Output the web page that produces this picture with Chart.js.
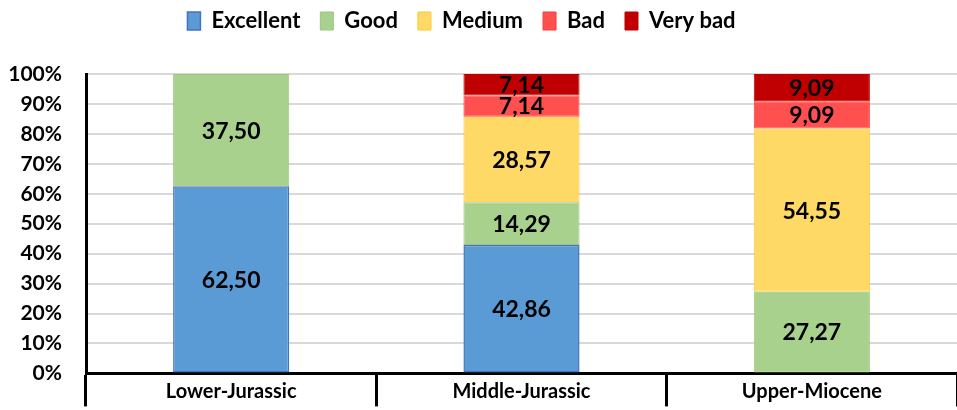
<!DOCTYPE html>
<html>
<head>
<meta charset="utf-8">
<script src="https://cdn.jsdelivr.net/npm/chart.js@4"></script>
<style>
  body { margin: 0; background: #fff; }
  #wrap { width: 957px; height: 410px; }
</style>
</head>
<body>
<div id="wrap"><canvas id="myChart"></canvas></div>
<script>
const periods = ['Lower-Jurassic', 'Middle-Jurassic', 'Upper-Miocene'];
const excellent = [62.50, 42.86, 0];
const good = [37.50, 14.29, 27.27];
const medium = [0, 28.57, 54.55];
const bad = [0, 7.14, 9.09];
const veryBad = [0, 7.14, 9.09];
const yTicks = ['0%','10%','20%','30%','40%','50%','60%','70%','80%','90%','100%'];

const FONT = 'Lato, "Open Sans", sans-serif';

// draws the numbers inside each segment
const segLabels = {
    id: 'segLabels',
    afterDatasetsDraw(chart) {
        const ctx = chart.ctx;
        ctx.save();
        ctx.font = 'bold 23px ' + FONT;
        ctx.fillStyle = '#000';
        ctx.textAlign = 'center';
        ctx.textBaseline = 'middle';
        chart.data.datasets.forEach((ds, i) => {
            const meta = chart.getDatasetMeta(i);
            meta.data.forEach((bar, j) => {
                const v = ds.data[j];
                if (!v) return;
                ctx.fillText(v.toFixed(2).replace('.', ','), bar.x, (bar.y + bar.base) / 2 + 1);
            });
        });
        ctx.restore();
    }
};

// legend a bit taller and a bit left of centre, like the original
const legendSpace = {
    id: 'legendSpace',
    beforeInit(chart) {
        const fit = chart.legend.fit;
        chart.legend.fit = function () {
            fit.bind(chart.legend)();
            this.height = 84;
        };
    },
    afterLayout(chart) {
        chart.legend.left -= 17;
        chart.legend.right -= 17;
    }
};

var ctx = document.querySelector('#myChart');
var myChart = new Chart(ctx, {
    type: 'bar',
    data: {
        labels: periods,
        datasets: [
            { label: 'Excellent', data: excellent, backgroundColor: '#5B9BD5', borderColor: '#4472C4', borderWidth: 1.5 },
            { label: 'Good', data: good, backgroundColor: '#A9D18E', borderColor: '#9CC67F', borderWidth: 1 },
            { label: 'Medium', data: medium, backgroundColor: '#FFD966', borderColor: '#FFC830', borderWidth: 1 },
            { label: 'Bad', data: bad, backgroundColor: '#FF5050', borderColor: '#FF3A3A', borderWidth: 1 },
            { label: 'Very bad', data: veryBad, backgroundColor: '#C00000', borderColor: '#C00000', borderWidth: 1 }
        ]
    },
    options: {
        responsive: true,
        maintainAspectRatio: false,
        animation: false,
        layout: { padding: { top: -10, right: 0, left: 0, bottom: 0 } },
        datasets: { bar: { categoryPercentage: 1, barPercentage: 0.4, borderSkipped: false } },
        plugins: {
            legend: {
                position: 'top',
                labels: {
                    font: { family: FONT, size: 22, weight: 'bold' },
                    color: '#000',
                    boxWidth: 13,
                    boxHeight: 18,
                    padding: 20
                }
            },
            tooltip: { enabled: false }
        },
        scales: {
            x: {
                stacked: true,
                afterFit: s => { s.height = 33; },
                grid: { offset: true, drawOnChartArea: false, color: '#000', lineWidth: 3, tickLength: 33 },
                border: { color: '#000', width: 3 },
                ticks: { color: '#000', padding: -27, font: { family: FONT, size: 20, weight: 'bold' } }
            },
            y: {
                stacked: true,
                min: 0,
                max: 100,
                afterFit: s => { s.width = 86; },
                grid: { color: '#D9D9D9', lineWidth: 2, drawTicks: false },
                border: { color: '#000', width: 3 },
                ticks: {
                    stepSize: 10,
                    padding: 24,
                    color: '#000',
                    font: { family: FONT, size: 21, weight: 'bold' },
                    callback: (v) => yTicks[Math.round(v / 10)]
                }
            }
        }
    },
    plugins: [segLabels, legendSpace]
});
</script>
</body>
</html>
